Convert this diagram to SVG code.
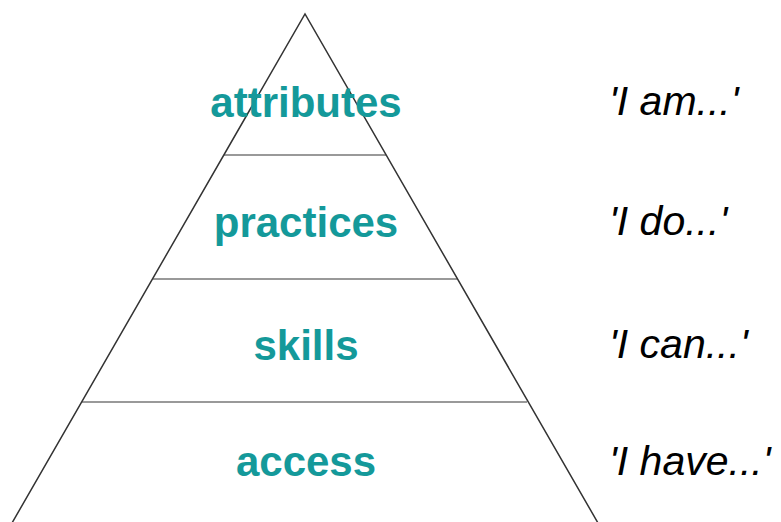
<svg xmlns="http://www.w3.org/2000/svg" width="781" height="522" viewBox="0 0 781 522">
<style>
.tier{font-family:"Liberation Sans",Arial,sans-serif;font-weight:bold;font-size:42px;fill:#14999a;text-anchor:middle}
.say{font-family:"Liberation Sans",Arial,sans-serif;font-style:italic;font-size:41px;fill:#000}
.div{stroke:#999;stroke-width:2}
.edge{stroke:#333;stroke-width:1.5;fill:none}
</style>
<rect width="781" height="522" fill="#fff"/>
<g id="connectors">
<line class="div" x1="224" y1="155" x2="386" y2="155"/>
<line class="div" x1="153" y1="279" x2="457" y2="279"/>
<line class="div" x1="82" y1="402" x2="527" y2="402"/>
<polyline class="edge" points="12,523 305,14 598,523"/>
</g>
<g id="attributes"><text class="tier" x="306" y="117">attributes</text></g>
<g id="practices"><text class="tier" x="306" y="237">practices</text></g>
<g id="skills"><text class="tier" x="306" y="360">skills</text></g>
<g id="access"><text class="tier" x="306" y="476">access</text></g>
<g id="iam"><text class="say" x="609" y="115">'I am...'</text></g>
<g id="ido"><text class="say" x="609" y="235">'I do...'</text></g>
<g id="ican"><text class="say" x="609" y="358">'I can...'</text></g>
<g id="ihave"><text class="say" x="609" y="475">'I have...'</text></g>
</svg>
